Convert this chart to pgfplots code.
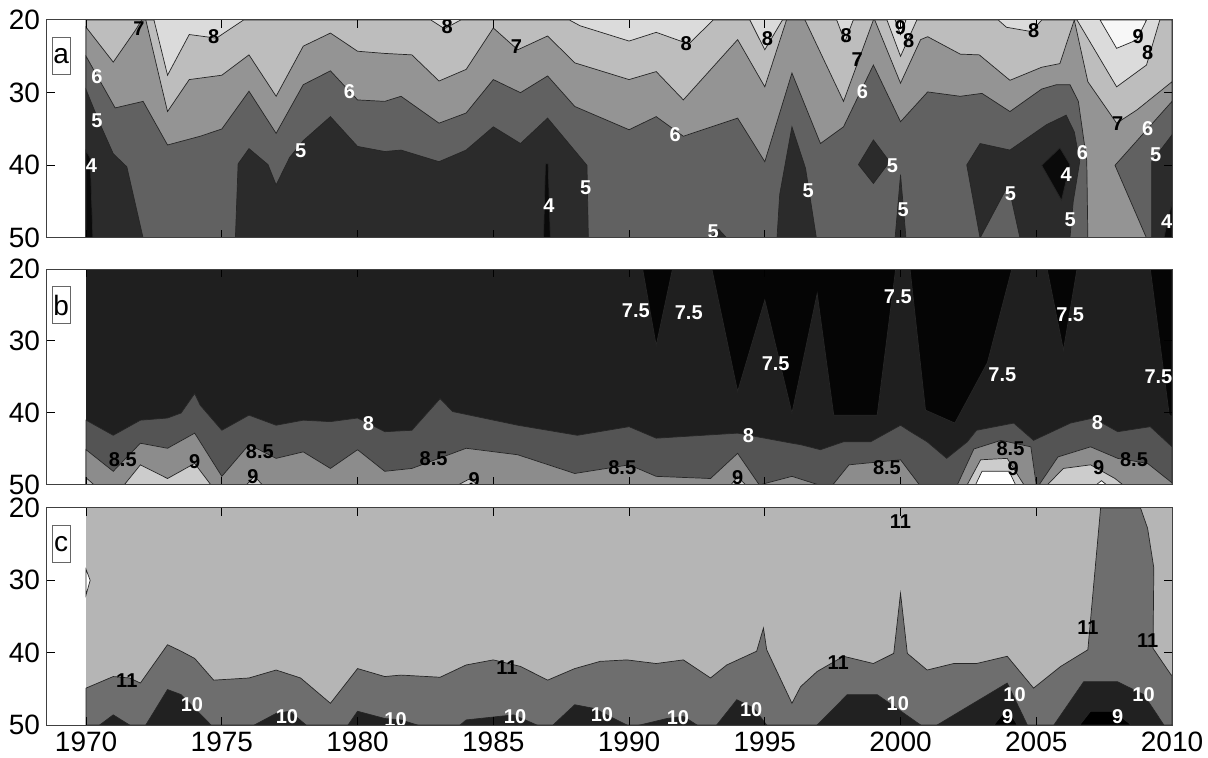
\documentclass[border=0pt]{standalone}
\usepackage{fontspec}
\setmainfont{Liberation Sans}
\usepackage{pgfplots}
\pgfplotsset{compat=1.18}
\definecolor{aW}{gray}{0.97}
\definecolor{aA}{gray}{0.86}
\definecolor{aB}{gray}{0.74}
\definecolor{aC}{gray}{0.58}
\definecolor{aD}{gray}{0.38}
\definecolor{aE}{gray}{0.17}
\definecolor{aF}{gray}{0.04}
\definecolor{bA}{gray}{0.02}
\definecolor{bB}{gray}{0.12}
\definecolor{bC}{gray}{0.33}
\definecolor{bD}{gray}{0.55}
\definecolor{bE}{gray}{0.80}
\definecolor{bF}{gray}{1.0}
\definecolor{cA}{gray}{0.71}
\definecolor{cB}{gray}{0.43}
\definecolor{cC}{gray}{0.13}
\definecolor{cD}{gray}{0.0}
\tikzset{
  cl/.style={draw=black!85, line width=0.35pt},
  wl/.style={text=white, font=\fontsize{10}{10}\selectfont\bfseries, inner sep=0.5pt},
  bl/.style={text=black, font=\fontsize{10}{10}\selectfont\bfseries, inner sep=0.5pt},
  pl/.style={draw=black!60, line width=0.4pt, fill=white, inner sep=0pt, minimum width=9pt, minimum height=18.5pt, font=\fontsize{14}{14}\selectfont},
}
\pgfplotsset{
  panel/.style={
    scale only axis, width=562.5pt,
    xmin=1968.56, xmax=2010, ymin=20, ymax=50, y dir=reverse,
    xtick={1970,1975,...,2010}, ytick={20,30,40,50},
    tick align=inside, major tick length=4pt,
    axis on top,
    tick label style={font=\fontsize{14}{14}\selectfont},
    /pgf/number format/assume math mode=true,
    /pgf/number format/1000 sep={},
    axis line style={black!75, line width=0.5pt},
    every tick/.style={black, line width=0.5pt},
    anchor=south west,
  }
}
\begin{document}
\begin{tikzpicture}
\path[use as bounding box] (-23.5pt,-16.5pt) rectangle (580.5pt,362.5pt);
\coordinate (pa) at (0pt,243.5pt);
\coordinate (pb) at (0pt,120pt);
\coordinate (pc) at (0pt,0pt);
% ================= panel a
\begin{axis}[panel, at={(pa)}, height=109pt, xticklabels={}]
\addplot[fill=aA, draw=none] coordinates {(1970,20)(2010,20)(2010,50)(1970,50)} -- cycle;
\addplot[fill=aW, cl] coordinates {(2007.35,20)(2007.96,23.9)(2008.7,22.75)(2009.06,20)} -- cycle;
\addplot[fill=aW, cl] coordinates {(1999.8,20)(2000,22)(2000.2,20)} -- cycle;
% below contour 8
\addplot[fill=aB, cl] coordinates {(1970,20)(1972.5,20)(1973,27.6)(1973.8,22)(1974.8,22.5)(1975.8,20)(1982.7,20)(1983.2,21.2)(1983.8,20)(1987.8,20)(1988.2,20.8)(1990,22.9)(1991,21.7)(1992.2,23.3)(1993.1,20)(1994.45,20)(1995,24.1)(1995.65,20)(1997.65,20)(1997.95,23)(1998.26,20)(1999.5,20)(2000,25)(2000.6,20)(2003.6,20)(2003.9,21)(2004.83,21.6)(2005.2,20)(2006.5,20)(2007.96,29.2)(2009.06,26.2)(2009.55,20)(2010,20)(2010,50)(1970,50)} -- cycle;
% below contour 7
\addplot[fill=aC, cl] coordinates {(1970,21)(1971,25.8)(1971.8,21.5)(1972.05,20)(1972.2,20)(1972.75,28.7)(1973,32.6)(1973.8,28.2)(1975,27.6)(1976,24.8)(1977,30.5)(1978,23.6)(1979,21.8)(1980,24.3)(1981,24.6)(1982,24.8)(1983,28.4)(1984,26.8)(1985,21.1)(1985.9,24.1)(1987,22.2)(1988,25.9)(1990,28.2)(1991,27.1)(1992,31)(1994,22.7)(1995,29.2)(1995.8,20)(1996.48,20)(1997.9,31.2)(1999.0,20)(1999.05,20)(2000,28.7)(2000.74,22.7)(2001,22.3)(2002.2,24.7)(2002.9,24.8)(2004.03,28.3)(2005.2,26.5)(2005.87,26)(2006.4,20)(2006.9,28.5)(2007.96,34.2)(2008.7,32.4)(2010,28.5)(2010,50)(1970,50)} -- cycle;
% below contour 6
\addplot[fill=aD, cl] coordinates {(1970,25)(1971.07,32.1)(1972.1,31.2)(1973,37.2)(1974.2,36)(1975,35)(1976,29.8)(1977,35.6)(1978,28.9)(1979,27)(1980,31)(1981,31.2)(1981.6,30.5)(1983,34.2)(1984,32.8)(1985,28.2)(1986,30)(1987,27.7)(1988,31.9)(1990,35.1)(1991,33.3)(1992,36)(1994,33.5)(1995,39.5)(1996,27.3)(1997.05,37)(1997.9,34.7)(1999,26.2)(2000,34)(2001,29.9)(2002.2,30.5)(2003,30.1)(2004.03,32.6)(2005.2,29.5)(2005.75,28.9)(2006.24,28.9)(2006.55,31.2)(2006.86,39.4)(2006.9,50)(2009.06,50)(2007.9,40)(2010,31.2)(2010,50)(1970,50)} -- cycle;
% below contour 5
\addplot[fill=aE, cl] coordinates {(1970,29.6)(1970.5,34.2)(1971,38.4)(1971.5,40.2)(1972.1,50)(1970,50)} -- cycle;
\addplot[fill=aE, cl] coordinates {(1975.5,50)(1975.6,39.8)(1976,37.7)(1976.7,39.9)(1977,42.7)(1977.5,38.9)(1978,36.6)(1979,33.3)(1980,37.4)(1981,38.1)(1981.6,37.9)(1983,39.5)(1984,37.9)(1985,34.7)(1986,37)(1987,33.5)(1988.45,40)(1988.5,50)} -- cycle;
\addplot[fill=aE, cl] coordinates {(1993.0,50)(1993.3,48.8)(1993.6,50)} -- cycle;
\addplot[fill=aE, cl] coordinates {(1995.45,50)(1995.55,44)(1996,34.7)(1996.5,40.4)(1996.9,50)} -- cycle;
\addplot[fill=aE, cl] coordinates {(1998.45,39.9)(1999.0,36.5)(1999.6,39.5)(1999.0,42.5)} -- cycle;
\addplot[fill=aE, cl] coordinates {(1999.8,50)(2000,41.3)(2000.2,50)} -- cycle;
\addplot[fill=aE, cl] coordinates {(2002.44,39.95)(2002.93,37)(2004.03,37.9)(2005.38,34.4)(2006.1,33.1)(2006.4,35.4)(2006.6,39.5)(2006.36,45)(2006.24,50)(2004.4,50)(2003.97,42.7)(2002.93,50)} -- cycle;
\addplot[fill=aE, cl] coordinates {(2009.25,50)(2009.25,39.5)(2010,35.8)(2010,50)} -- cycle;
% below contour 4
\addplot[fill=aF, cl] coordinates {(1970,38)(1970.15,39)(1970.25,50)(1970,50)} -- cycle;
\addplot[fill=aF, cl] coordinates {(1986.85,50)(1986.92,39.8)(1987.02,39.8)(1987.1,50)} -- cycle;
\addplot[fill=aF, cl] coordinates {(2005.2,40)(2005.87,37.6)(2006.24,39.9)(2005.93,44.8)} -- cycle;
\addplot[fill=aF, cl] coordinates {(2009.7,50)(2010,45)(2010,50)} -- cycle;
% labels
\node[bl] at (axis cs:1971.95,21.2) {7};
\node[bl] at (axis cs:1974.7,22.3) {8};
\node[wl] at (axis cs:1970.4,27.8) {6};
\node[wl] at (axis cs:1970.4,33.8) {5};
\node[wl] at (axis cs:1970.2,40.1) {4};
\node[wl] at (axis cs:1979.7,29.8) {6};
\node[wl] at (axis cs:1977.9,38) {5};
\node[bl] at (axis cs:1983.3,20.9) {8};
\node[bl] at (axis cs:1985.85,23.6) {7};
\node[bl] at (axis cs:1992.1,23.2) {8};
\node[wl] at (axis cs:1991.7,35.8) {6};
\node[wl] at (axis cs:1988.4,43.1) {5};
\node[wl] at (axis cs:1987.05,45.5) {4};
\node[wl] at (axis cs:1993.1,49.2) {5};
\node[bl] at (axis cs:1995.1,22.5) {8};
\node[wl] at (axis cs:1996.6,43.5) {5};
\node[bl] at (axis cs:1998.0,22.1) {8};
\node[bl] at (axis cs:1998.4,25.5) {7};
\node[wl] at (axis cs:1998.6,29.9) {6};
\node[bl] at (axis cs:2000.0,21.1) {9};
\node[bl] at (axis cs:2000.3,22.8) {8};
\node[wl] at (axis cs:1999.7,40.1) {5};
\node[wl] at (axis cs:2000.1,46.1) {5};
\node[bl] at (axis cs:2004.9,21.4) {8};
\node[wl] at (axis cs:2004.05,43.9) {5};
\node[wl] at (axis cs:2006.1,41.3) {4};
\node[wl] at (axis cs:2006.25,47.5) {5};
\node[wl] at (axis cs:2006.7,38.2) {6};
\node[bl] at (axis cs:2008,34.2) {7};
\node[bl] at (axis cs:2008.75,22.3) {9};
\node[bl] at (axis cs:2009.1,24.5) {8};
\node[wl] at (axis cs:2009.1,34.9) {6};
\node[wl] at (axis cs:2009.4,38.6) {5};
\node[wl] at (axis cs:2009.8,47.8) {4};
\node[pl] at (axis cs:1969.08,25) {a};
\end{axis}
% ================= panel b
\begin{axis}[panel, at={(pb)}, height=108pt, xticklabels={}]
\addplot[fill=bB, draw=none] coordinates {(1970,20)(2010,20)(2010,50)(1970,50)} -- cycle;
\addplot[fill=bA, cl] coordinates {(1990.5,20)(1991.0,30.6)(1991.6,20)} -- cycle;
\addplot[fill=bA, cl] coordinates {(1993.05,20)(1994,37)(1995,24.3)(1996,40)(1996.93,23.4)(1997.54,40.3)(1999.14,40.3)(1999.82,20)} -- cycle;
\addplot[fill=bA, cl] coordinates {(2000.35,20)(2000.92,39.6)(2002,41.4)(2003.2,33)(2004.1,20)} -- cycle;
\addplot[fill=bA, cl] coordinates {(2005.4,20)(2006,31.25)(2006.5,20)} -- cycle;
\addplot[fill=bA, cl] coordinates {(2009.2,20)(2009.9,40.3)(2010,40.5)(2010,20)} -- cycle;
% below contour 8
\addplot[fill=bC, cl] coordinates {(1970,41)(1971,43.1)(1972,41)(1973,40.7)(1973.5,40)(1974,37.3)(1974.2,38.9)(1975,42.4)(1976,40.3)(1977,41.7)(1978,41)(1979,41.2)(1980,40.7)(1981,42.6)(1982,42.4)(1983.04,38)(1983.5,39.8)(1985.9,41.7)(1988.1,43.1)(1990,41.9)(1991,43.5)(1994,42.8)(1996,44.2)(1996.32,44.4)(1997.05,45.1)(1997.9,44)(1998.9,44)(2000,41.7)(2000.37,42.6)(2000.98,44)(2001.7,46.3)(2002.46,44)(2002.8,42.4)(2004.17,41.4)(2004.9,43.8)(2006.26,41.4)(2007.1,40.7)(2008,42.6)(2009.2,41.9)(2010,44.7)(2010,50)(1970,50)} -- cycle;
% below contour 8.5
\addplot[fill=bD, cl] coordinates {(1970,45.1)(1971,48.1)(1972,44.2)(1973,44.9)(1974,42.8)(1975,48.8)(1976,44.4)(1977,46.3)(1978,45.4)(1979,47.7)(1980,45.1)(1981,48.1)(1982,47.7)(1984,44.9)(1985.9,45.8)(1988,48.4)(1990,47.2)(1991,48.8)(1993,49.1)(1994,45.6)(1994.8,50)(1996,48.8)(1997,50)(1997.5,50)(1998.1,47.2)(2000,46.5)(2000.7,50)(2002.09,50)(2002.7,45)(2003.7,43.8)(2004.8,44.7)(2005.0,50)(2005.1,50)(2005.8,46.1)(2007,44.7)(2008,46.3)(2009.1,47)(2010,49.7)(2010,50)(1970,50)} -- cycle;
% below contour 9
\addplot[fill=bE, cl] coordinates {(1970,49)(1970.3,50)(1970,50)} -- cycle;
\addplot[fill=bE, cl] coordinates {(1971.4,50)(1972,47.2)(1973,49.1)(1974,47)(1974.6,50)} -- cycle;
\addplot[fill=bE, cl] coordinates {(1975.9,50)(1976.2,48.8)(1976.5,50)} -- cycle;
\addplot[fill=bE, cl] coordinates {(1983.7,50)(1984.1,49.2)(1984.5,50)} -- cycle;
\addplot[fill=bE, cl] coordinates {(1993.75,50)(1994,48.8)(1994.3,50)} -- cycle;
\addplot[fill=bE, cl] coordinates {(2002.45,50)(2002.95,46.5)(2003.93,46.3)(2004.55,50)} -- cycle;
\addplot[fill=bE, cl] coordinates {(2005.4,50)(2006,47.7)(2007,47.2)(2007.9,49.1)(2008.2,50)} -- cycle;
% below contour 9.5
\addplot[fill=bF, cl] coordinates {(2002.76,50)(2003,48.1)(2004,48.1)(2004.24,50)} -- cycle;
\addplot[fill=bF, cl] coordinates {(2007.2,50)(2007.4,49.4)(2007.6,50)} -- cycle;
% labels
\node[bl] at (axis cs:1971.35,46.5) {8.5};
\node[bl] at (axis cs:1974.0,46.8) {9};
\node[bl] at (axis cs:1976.4,45.4) {8.5};
\node[bl] at (axis cs:1976.15,48.9) {9};
\node[wl] at (axis cs:1980.4,41.5) {8};
\node[bl] at (axis cs:1982.8,46.4) {8.5};
\node[bl] at (axis cs:1984.3,49.2) {9};
\node[wl] at (axis cs:1990.25,25.8) {7.5};
\node[wl] at (axis cs:1992.2,26.1) {7.5};
\node[wl] at (axis cs:1995.4,33.2) {7.5};
\node[wl] at (axis cs:1994.4,43.1) {8};
\node[bl] at (axis cs:1989.75,47.6) {8.5};
\node[bl] at (axis cs:1994.0,49.0) {9};
\node[wl] at (axis cs:1999.9,23.9) {7.5};
\node[bl] at (axis cs:1999.5,47.6) {8.5};
\node[wl] at (axis cs:2003.75,34.7) {7.5};
\node[bl] at (axis cs:2004.05,44.9) {8.5};
\node[bl] at (axis cs:2004.15,47.7) {9};
\node[wl] at (axis cs:2006.25,26.4) {7.5};
\node[wl] at (axis cs:2007.25,41.3) {8};
\node[bl] at (axis cs:2007.3,47.6) {9};
\node[bl] at (axis cs:2008.6,46.5) {8.5};
\node[wl] at (axis cs:2009.5,35) {7.5};
\node[pl] at (axis cs:1969.08,25) {b};
\end{axis}
% ================= panel c
\begin{axis}[panel, at={(pc)}, height=108.5pt]
\addplot[fill=cA, draw=none] coordinates {(1970,20)(2010,20)(2010,50)(1970,50)} -- cycle;
\addplot[fill=white, cl] coordinates {(1970,28.5)(1970.15,30)(1970,32)} -- cycle;
% below contour 11
\addplot[fill=cB, cl] coordinates {(1970,44.9)(1971,43.3)(1971.6,43.5)(1972,44.2)(1973,38.9)(1973.5,39.8)(1974,40.8)(1974.7,43.8)(1976,43.5)(1977,42.4)(1977.9,43.5)(1979,47)(1980,42.2)(1981,43.3)(1981.6,43.1)(1983.04,43.4)(1984,41.7)(1985,41)(1986,41.9)(1987,43.8)(1988,42.2)(1988.94,41.2)(1989.92,41)(1991,41.5)(1992,41)(1993,43.5)(1993.6,41.7)(1994.7,39.8)(1994.95,36.6)(1995.07,39.6)(1996,47)(1996.32,44.7)(1996.93,42.6)(1997.9,40.5)(1999,41.5)(1999.75,40.1)(2000,31.8)(2000.25,40.1)(2000.98,42.4)(2001.96,41.5)(2002.8,41.5)(2003.93,40.5)(2004.9,44.9)(2005.9,41.9)(2006.9,39.6)(2007.37,20)(2008.84,20)(2009.1,22.8)(2009.33,28.3)(2009.3,39.4)(2009.97,43.1)(2010,43.1)(2010,50)(1970,50)} -- cycle;
% below contour 10
\addplot[fill=cC, cl] coordinates {(1970.5,50)(1971,48.6)(1971.6,50)} -- cycle;
\addplot[fill=cC, cl] coordinates {(1972.2,50)(1973,45.1)(1973.5,45.8)(1974.6,50)} -- cycle;
\addplot[fill=cC, cl] coordinates {(1976.2,50)(1977,48.4)(1977.5,48.1)(1978.1,50)} -- cycle;
\addplot[fill=cC, cl] coordinates {(1979.65,50)(1980,48.1)(1981,49.1)(1981.6,49.3)(1982.2,50)} -- cycle;
\addplot[fill=cC, cl] coordinates {(1983.78,50)(1984,49.3)(1985.25,48.8)(1985.75,48.6)(1986.6,50)} -- cycle;
\addplot[fill=cC, cl] coordinates {(1987.2,50)(1988,47.2)(1988.7,47.7)(1989.92,50)} -- cycle;
\addplot[fill=cC, cl] coordinates {(1990.4,50)(1991.4,49.1)(1992,48.8)(1992.5,50)} -- cycle;
\addplot[fill=cC, cl] coordinates {(1993.23,50)(1993.97,46.5)(1994.6,47.7)(1995.07,50)} -- cycle;
\addplot[fill=cC, cl] coordinates {(1996.93,50)(1998.04,45.8)(1999.14,45.8)(2000.74,50)} -- cycle;
\addplot[fill=cC, cl] coordinates {(2001.35,50)(2003.93,44.2)(2004.67,50)} -- cycle;
\addplot[fill=cC, cl] coordinates {(2005.65,50)(2006.75,44)(2007.98,44)(2008.96,45.8)(2009.7,50)} -- cycle;
% below contour 9
\addplot[fill=cD, cl] coordinates {(2003.44,50)(2003.93,47.7)(2004.3,50)} -- cycle;
\addplot[fill=cD, cl] coordinates {(2006.6,50)(2007,48.1)(2007.86,48.1)(2008.5,50)} -- cycle;
% labels
\node[bl] at (axis cs:1971.5,43.8) {11};
\node[wl] at (axis cs:1973.9,47.2) {10};
\node[wl] at (axis cs:1977.4,48.9) {10};
\node[wl] at (axis cs:1981.4,49.3) {10};
\node[bl] at (axis cs:1985.5,42) {11};
\node[wl] at (axis cs:1985.8,48.9) {10};
\node[wl] at (axis cs:1989.0,48.6) {10};
\node[wl] at (axis cs:1991.8,49) {10};
\node[wl] at (axis cs:1994.5,47.9) {10};
\node[bl] at (axis cs:2000,21.9) {11};
\node[bl] at (axis cs:1997.7,41.4) {11};
\node[wl] at (axis cs:1999.9,47) {10};
\node[wl] at (axis cs:2004.2,45.8) {10};
\node[wl] at (axis cs:2003.95,48.9) {9};
\node[bl] at (axis cs:2006.9,36.5) {11};
\node[bl] at (axis cs:2009.1,38.3) {11};
\node[wl] at (axis cs:2008.95,45.8) {10};
\node[wl] at (axis cs:2008.0,48.9) {9};
\node[pl] at (axis cs:1969.08,25) {c};
\end{axis}
\end{tikzpicture}
\end{document}
